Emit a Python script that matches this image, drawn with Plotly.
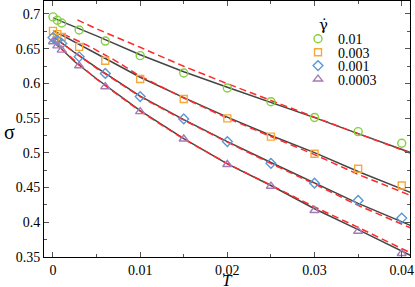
import plotly.graph_objects as go

# measured points
T = [0, 0.0005, 0.001, 0.003, 0.006, 0.01, 0.015, 0.02, 0.025, 0.03, 0.035, 0.04]
sig_001 = [0.6958, 0.691, 0.687, 0.677, 0.661, 0.640, 0.615, 0.5934, 0.5737, 0.551, 0.5306, 0.5138]
sig_0003 = [0.6757, 0.671, 0.667, 0.6527, 0.6326, 0.6063, 0.5776, 0.5497, 0.5234, 0.4986, 0.477, 0.453]
sig_0001 = [0.666, 0.662, 0.6575, 0.6384, 0.6144, 0.581, 0.5489, 0.5162, 0.485, 0.4563, 0.4315, 0.406]
sig_00003 = [0.660, 0.654, 0.648, 0.6254, 0.5953, 0.5594, 0.520, 0.4832, 0.452, 0.417, 0.387, 0.355]

# black solid curves
T_fit = [0, 0.0025, 0.005, 0.01, 0.015, 0.02, 0.025, 0.03, 0.035, 0.041]
fit_001 = [0.6944, 0.6815, 0.6685, 0.6412, 0.6168, 0.5945, 0.573, 0.5507, 0.5277, 0.5004]
fit_0003 = [0.6764, 0.6599, 0.6427, 0.6089, 0.5795, 0.5514, 0.5249, 0.5004, 0.4731, 0.443]
fit_0001 = [0.6678, 0.6442, 0.6226, 0.5816, 0.5478, 0.5162, 0.4861, 0.4566, 0.4272, 0.3955]
fit_00003 = [0.6614, 0.6312, 0.6067, 0.5608, 0.5205, 0.4842, 0.453, 0.4195, 0.3894, 0.3524]

# red dashed curves
T_red_001 = [0.0028, 0.005, 0.01, 0.015, 0.02, 0.025, 0.03, 0.035, 0.041]
red_001 = [0.6915, 0.6786, 0.652, 0.6247, 0.5996, 0.5751, 0.5514, 0.5277, 0.4997]
T_red_0003 = [0.0012, 0.004, 0.007, 0.01, 0.015, 0.02, 0.025, 0.03, 0.035, 0.041]
red_0003 = [0.671, 0.6545, 0.634, 0.6104, 0.579, 0.55, 0.5235, 0.4975, 0.469, 0.4387]
T_red_0001 = [0.0005, 0.005, 0.01, 0.015, 0.02, 0.025, 0.03, 0.035, 0.041]
red_0001 = [0.6626, 0.6218, 0.5809, 0.5471, 0.5155, 0.4846, 0.4552, 0.4243, 0.392]
T_red_00003 = [0, 0.005, 0.01, 0.015, 0.02, 0.025, 0.03, 0.035, 0.041]
red_00003 = [0.6599, 0.606, 0.56, 0.5198, 0.4846, 0.4537, 0.4221, 0.3927, 0.356]

rates = ["0.01", "0.003", "0.001", "0.0003"]
colors = ["#84d13f", "#f7a83a", "#5a97d3", "#a67bb5"]
symbols = ["circle-open", "square-open", "diamond-open", "triangle-up-open"]
sizes = [8, 7, 7.5, 8]

pts = [sig_001, sig_0003, sig_0001, sig_00003]
fits = [fit_001, fit_0003, fit_0001, fit_00003]
reds = [(T_red_001, red_001), (T_red_0003, red_0003), (T_red_0001, red_0001), (T_red_00003, red_00003)]

SERIF = "Liberation Serif, Times New Roman, Times, serif"

fig = go.Figure()

for i in range(4):
    fig.add_trace(go.Scatter(x=T_fit, y=fits[i], mode="lines", showlegend=False,
                             line=dict(color="#454545", width=1.5)))
    fig.add_trace(go.Scatter(x=reds[i][0], y=reds[i][1], mode="lines", showlegend=False,
                             line=dict(color="#ff2a2a", width=1.5, dash="7px,4px")))

# one legend per entry so the rows can sit closer than plotly's minimum row height
legend_names = ["legend", "legend2", "legend3", "legend4"]
legend_rows = [0.851, 0.7985, 0.746, 0.6935]
for i in range(4):
    fig.add_trace(go.Scatter(x=T, y=pts[i], mode="markers", name=rates[i], legend=legend_names[i],
                             marker=dict(symbol=symbols[i], size=sizes[i], color=colors[i],
                                         line=dict(width=1.4, color=colors[i]))))

axis_common = dict(showline=True, linecolor="black", linewidth=1, mirror="allticks",
                   ticks="inside", ticklen=5, tickcolor="#555", showgrid=False, zeroline=False,
                   automargin=False,
                   tickfont=dict(family=SERIF, size=14, color="black"))

fig.update_xaxes(range=[-0.00103, 0.04095], tickvals=[0, 0.01, 0.02, 0.03, 0.04],
                 ticktext=["0", "0.01", "0.02", "0.03", "0.04"],
                 minor=dict(dtick=0.005, tick0=0, ticks="inside", ticklen=3, tickcolor="#555"),
                 **axis_common)
fig.update_yaxes(range=[0.35, 0.7187], tickvals=[0.35, 0.4, 0.45, 0.5, 0.55, 0.6, 0.65, 0.7],
                 ticktext=["0.35", "0.4", "0.45", "0.5", "0.55", "0.6", "0.65", "0.7"],
                 minor=dict(dtick=0.025, tick0=0.35, ticks="inside", ticklen=3, tickcolor="#555"),
                 **axis_common)

layout_legends = {}
for name, row in zip(legend_names, legend_rows):
    layout_legends[name] = dict(x=0.694, y=row, xanchor="left", yanchor="middle",
                                bgcolor="rgba(0,0,0,0)", font=dict(family=SERIF, size=14),
                                itemwidth=30)

fig.update_layout(
    width=415, height=287,
    margin=dict(l=44, r=5, t=1, b=30),
    paper_bgcolor="white", plot_bgcolor="white",
    font=dict(family=SERIF, size=14, color="black"),
    showlegend=True,
    annotations=[
        dict(text="<i>T</i>", x=0.5, y=-0.092, xref="paper", yref="paper",
             xanchor="center", yanchor="middle", showarrow=False,
             font=dict(family=SERIF, size=17, color="black")),
        dict(text="σ", x=-0.095, y=0.49, xref="paper", yref="paper",
             xanchor="center", yanchor="middle", showarrow=False,
             font=dict(family=SERIF, size=20, color="black")),
        dict(text="γ̇", x=0.764, y=0.905, xref="paper", yref="paper",
             xanchor="center", yanchor="middle", showarrow=False,
             font=dict(family="DejaVu Serif", size=15, color="black")),
    ],
    **layout_legends,
)

# the page's default body margin would push the figure 8px down and right
fig.write_html("out.html", config={"displayModeBar": False},
               post_script="document.body.style.margin='0';")
